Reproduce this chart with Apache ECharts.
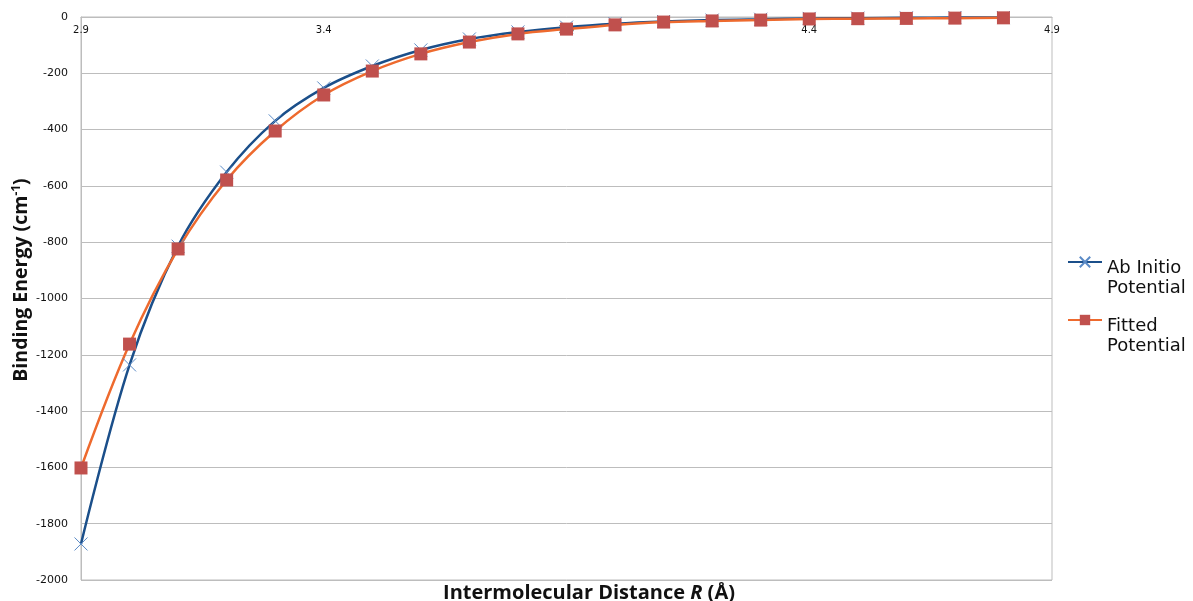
<!DOCTYPE html>
<html><head><meta charset="utf-8">
<script src="https://cdn.jsdelivr.net/npm/echarts@6/dist/echarts.min.js"></script>
<style>html,body{margin:0;padding:0;background:#fff}#c{width:1193px;height:601px}</style>
</head><body><div id="c"></div>
<script>
const distances = [2.9,3.0,3.1,3.2,3.3,3.4,3.5,3.6,3.7,3.8,3.9,4.0,4.1,4.2,4.3,4.4,4.5,4.6,4.7,4.8];
const abInitio = [-1872,-1236,-814,-551,-369,-252,-174,-117,-78,-53,-36,-24,-16,-11,-8,-5,-4,-3,-2,-2];
const fitted   = [-1602,-1162,-824,-579,-405,-277,-192,-131,-89,-60,-43,-28,-18,-14,-11,-7,-6,-5,-4,-3];
const seriesNames = ['Ab Initio Potential','Fitted Potential'];
const xTicks = [2.9,3.4,3.9,4.4,4.9];

const legendBase = {
  orient:'vertical',left:1062,itemWidth:34,itemHeight:13,
  formatter:n=>'{sp| }\n{a|'+n.replace(' Potential','}\n{a|Potential')+'}',
  textStyle:{rich:{
    sp:{fontSize:10,lineHeight:32},
    a:{fontFamily:'DejaVu Sans',fontSize:18,color:'#111',lineHeight:20}
  }}
};

const chart = echarts.init(document.getElementById('c'));
chart.setOption({
  animation:false,
  backgroundColor:'#fff',
  grid:{left:81,right:141,top:17,bottom:21,show:true,borderColor:'#bdbdbd',borderWidth:1,outerBoundsMode:'none',containLabel:false},
  legend:[
    Object.assign({},legendBase,{top:232,data:[seriesNames[0]]}),
    Object.assign({},legendBase,{top:290,data:[seriesNames[1]]})
  ],
  xAxis:{
    type:'value',position:'top',min:xTicks[0],max:xTicks[xTicks.length-1],interval:0.5,
    axisLine:{show:true,onZero:false,lineStyle:{color:'#bdbdbd'}},
    axisTick:{show:false},splitLine:{show:false},
    axisLabel:{inside:true,margin:8,fontFamily:'DejaVu Sans',fontSize:10,color:'#111',formatter:v=>v.toFixed(1)}
  },
  yAxis:{
    type:'value',min:-2000,max:0,interval:200,
    axisLine:{show:true,lineStyle:{color:'#bdbdbd'}},axisTick:{show:false},
    splitLine:{show:true,lineStyle:{color:'#bdbdbd',width:1}},
    axisLabel:{margin:13,fontFamily:'DejaVu Sans',fontSize:11,color:'#111',formatter:v=>String(v)}
  },
  graphic:[
    {
      type:'text',x:589,y:593,
      style:{
        text:'{b|Intermolecular Distance }{i|R}{b| (Å)}',
        align:'center',verticalAlign:'middle',
        rich:{
          b:{fontFamily:'Open Sans',fontWeight:'bold',fontSize:20,fill:'#111'},
          i:{fontFamily:'Open Sans',fontWeight:'bold',fontStyle:'italic',fontSize:20,fill:'#111'}
        }
      }
    },
    {
      type:'text',x:21,y:280,rotation:Math.PI/2,
      style:{
        text:'{a|Binding Energy (cm}{s|-1}{a|)}',
        align:'center',verticalAlign:'middle',
        rich:{
          a:{fontFamily:'Open Sans',fontWeight:'bold',fontSize:19.5,fill:'#111'},
          s:{fontFamily:'Open Sans',fontWeight:'bold',fontSize:12,fill:'#111',verticalAlign:'top',padding:[0,0,8,0]}
        }
      }
    }
  ],
  series:[
    {
      name:seriesNames[0],type:'line',smooth:0.35,
      data:distances.map((d,i)=>[d,abInitio[i]]),
      symbol:'path://M0,0L10,10M10,0L0,10',symbolSize:13,
      itemStyle:{color:'transparent',borderColor:'#5a8ac6',borderWidth:1},
      lineStyle:{color:'#1b4f8a',width:2.5}
    },
    {
      name:seriesNames[1],type:'line',smooth:0.35,
      data:distances.map((d,i)=>[d,fitted[i]]),
      symbol:'rect',symbolSize:13,
      itemStyle:{color:'#c0504d'},
      lineStyle:{color:'#ee6a2e',width:2.5}
    }
  ]
});
</script></body></html>
